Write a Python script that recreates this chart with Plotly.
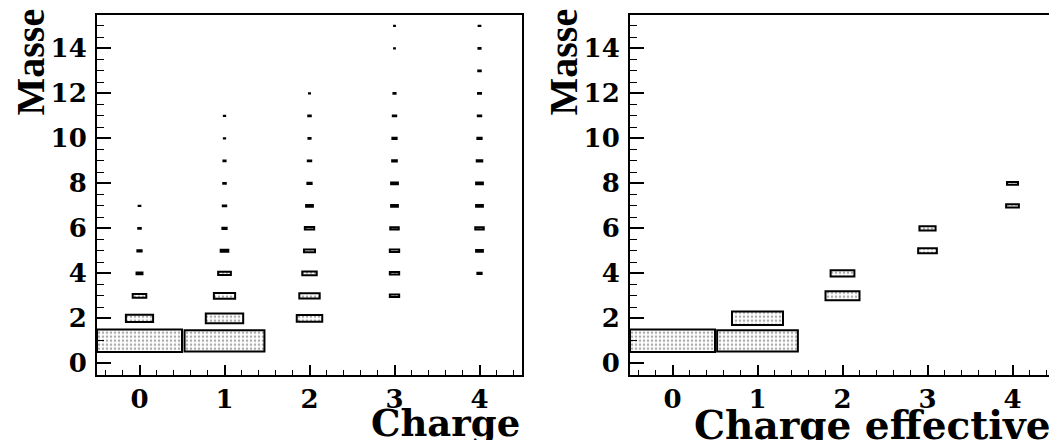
import plotly.graph_objects as go

# ---------------- data (box size = fraction of the bin, ROOT-style BOX plot) ----------------
# Left panel: Charge vs Masse
charge = [0, 0, 0, 0, 0, 0, 0,
          1, 1, 1, 1, 1, 1, 1, 1, 1, 1, 1,
          2, 2, 2, 2, 2, 2, 2, 2, 2, 2, 2,
          3, 3, 3, 3, 3, 3, 3, 3, 3, 3, 3, 3,
          4, 4, 4, 4, 4, 4, 4, 4, 4, 4, 4, 4]
masse_l = [1, 2, 3, 4, 5, 6, 7,
           1, 2, 3, 4, 5, 6, 7, 8, 9, 10, 11,
           2, 3, 4, 5, 6, 7, 8, 9, 10, 11, 12,
           3, 4, 5, 6, 7, 8, 9, 10, 11, 12, 14, 15,
           4, 5, 6, 7, 8, 9, 10, 11, 12, 13, 14, 15]
size_l = [1.00, 0.32, 0.16, 0.07, 0.05, 0.03, 0.02,
          0.94, 0.44, 0.25, 0.15, 0.09, 0.05, 0.04, 0.03, 0.025, 0.015, 0.015,
          0.30, 0.24, 0.17, 0.13, 0.11, 0.08, 0.05, 0.04, 0.025, 0.03, 0.012,
          0.11, 0.11, 0.11, 0.10, 0.08, 0.08, 0.055, 0.05, 0.04, 0.025, 0.01, 0.01,
          0.05, 0.08, 0.10, 0.08, 0.08, 0.065, 0.05, 0.04, 0.035, 0.03, 0.025, 0.02]

# Right panel: Charge effective vs Masse
charge_eff = [0, 1, 1, 2, 2, 3, 3, 4, 4]
masse_r = [1, 1, 2, 3, 4, 5, 6, 7, 8]
size_r = [1.00, 0.95, 0.60, 0.40, 0.28, 0.22, 0.19, 0.15, 0.13]

x_ticks = [0, 1, 2, 3, 4]
y_ticks = [0, 2, 4, 6, 8, 10, 12, 14]

# ---------------- styling ----------------
TICKFONT = dict(family="DejaVu Serif", size=26, color="black", weight="bold")
TITLEFONT = dict(family="DejaVu Serif", size=37, color="black", weight="bold")
TITLEFONT2 = dict(family="DejaVu Serif", size=39, color="black", weight="bold")
YTITLEFONT = dict(family="Liberation Serif", size=40, color="black", weight="bold")


def box_trace(xs, ys, fs, xa, ya):
    return go.Bar(
        x=xs,
        y=fs,
        base=[y - f / 2 for y, f in zip(ys, fs)],
        width=fs,
        xaxis=xa,
        yaxis=ya,
        marker=dict(
            color="white",
            line=dict(color="black", width=2),
            pattern=dict(shape=".", fgcolor="#555555", bgcolor="white",
                         size=4, solidity=0.3),
        ),
        showlegend=False,
        hoverinfo="skip",
    )


fig = go.Figure()
fig.add_trace(box_trace(charge, masse_l, size_l, "x", "y"))
fig.add_trace(box_trace(charge_eff, masse_r, size_r, "x2", "y2"))

# the page body has an 8px margin, so the figure is drawn 8px smaller
W, H = 1049, 432
ydom = [(H - 370) / H, (H - 6.7) / H]
xdom1 = [89 / W, 514 / W]
xdom2 = [622 / W, 1047 / W]

common_x = dict(
    range=[-0.5, 4.5], tickvals=x_ticks, ticks="inside", ticklen=10, tickwidth=1.5,
    tickcolor="black", showline=True, linewidth=2, linecolor="black", mirror=True,
    showgrid=False, zeroline=False, tickfont=TICKFONT, ticklabelstandoff=0,
    minor=dict(dtick=0.2, tick0=0, ticks="inside", ticklen=5, tickwidth=1.2,
               tickcolor="black", showgrid=False),
    fixedrange=True,
)
common_y = dict(
    range=[-0.5, 15.5], tickvals=y_ticks, ticks="inside", ticklen=14, tickwidth=1.5,
    tickcolor="black", showline=True, linewidth=2, linecolor="black", mirror=True,
    showgrid=False, zeroline=False, tickfont=TICKFONT, ticklabelstandoff=3,
    minor=dict(dtick=0.5, tick0=0, ticks="inside", ticklen=7, tickwidth=1.2,
               tickcolor="black", showgrid=False),
    fixedrange=True,
)

fig.update_layout(
    width=W, height=H,
    margin=dict(l=0, r=0, t=0, b=0),
    paper_bgcolor="white", plot_bgcolor="white",
    barmode="overlay",
    xaxis=dict(domain=xdom1, anchor="y", **common_x),
    yaxis=dict(domain=ydom, anchor="x", **common_y),
    xaxis2=dict(domain=xdom2, anchor="y2", **common_x),
    yaxis2=dict(domain=ydom, anchor="x2", **common_y),
    annotations=[
        dict(text="Charge", xref="paper", yref="paper", x=xdom1[1], y=0,
             xanchor="right", yanchor="bottom", yshift=-11, showarrow=False,
             font=TITLEFONT),
        dict(text="Charge effective", xref="paper", yref="paper", x=1045 / W, y=0,
             xanchor="right", yanchor="bottom", yshift=-14, showarrow=False,
             font=TITLEFONT2),
        dict(text="Masse", xref="paper", yref="paper", x=22 / W, y=1 - 55 / H,
             xanchor="center", yanchor="middle", textangle=-90, showarrow=False,
             font=YTITLEFONT),
        dict(text="Masse", xref="paper", yref="paper", x=555 / W, y=1 - 55 / H,
             xanchor="center", yanchor="middle", textangle=-90, showarrow=False,
             font=YTITLEFONT),
    ],
)

fig.write_html("out.html")
